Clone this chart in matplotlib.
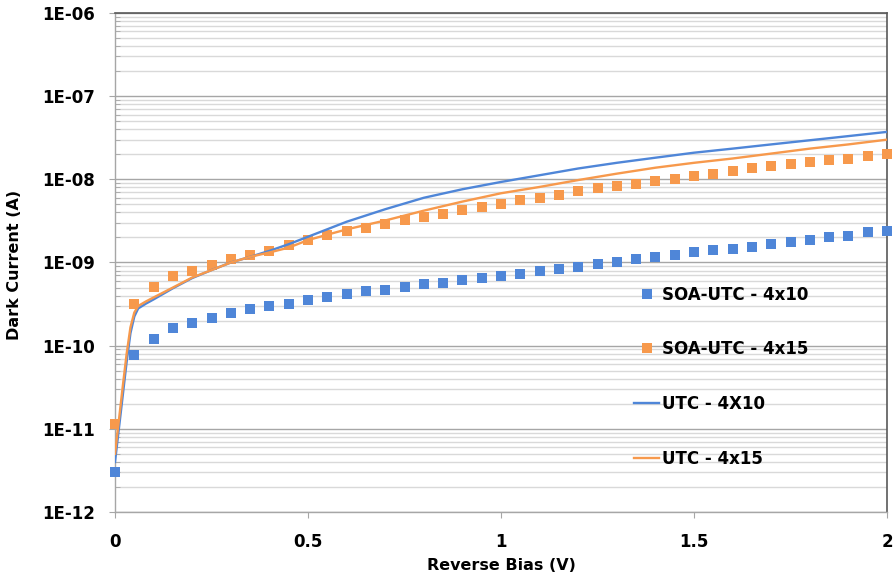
"""
Dark current vs reverse bias, SOA-UTC and UTC devices
"""

import matplotlib
matplotlib.use('Agg')
import matplotlib.pyplot as plt
from matplotlib.ticker import FixedLocator, FuncFormatter, NullFormatter
import numpy as np

# measured points, 0.05 V steps
bias_pts = [0.00, 0.05, 0.10, 0.15, 0.20, 0.25, 0.30, 0.35, 0.40, 0.45,
            0.50, 0.55, 0.60, 0.65, 0.70, 0.75, 0.80, 0.85, 0.90, 0.95,
            1.00, 1.05, 1.10, 1.15, 1.20, 1.25, 1.30, 1.35, 1.40, 1.45,
            1.50, 1.55, 1.60, 1.65, 1.70, 1.75, 1.80, 1.85, 1.90, 1.95, 2.00]

soa_4x10 = [3.0e-12, 7.8e-11, 1.2e-10, 1.62e-10, 1.86e-10, 2.14e-10, 2.45e-10, 2.75e-10, 3.0e-10, 3.2e-10,
            3.55e-10, 3.9e-10, 4.2e-10, 4.5e-10, 4.7e-10, 5.1e-10, 5.5e-10, 5.6e-10, 6.2e-10, 6.5e-10,
            6.9e-10, 7.2e-10, 7.8e-10, 8.3e-10, 8.9e-10, 9.5e-10, 1.02e-9, 1.10e-9, 1.17e-9, 1.23e-9,
            1.32e-9, 1.41e-9, 1.45e-9, 1.55e-9, 1.66e-9, 1.78e-9, 1.86e-9, 2.0e-9, 2.1e-9, 2.3e-9, 2.4e-9]

soa_4x15 = [1.15e-11, 3.2e-10, 5.1e-10, 6.8e-10, 7.9e-10, 9.3e-10, 1.10e-9, 1.23e-9, 1.38e-9, 1.62e-9,
            1.86e-9, 2.14e-9, 2.4e-9, 2.63e-9, 2.9e-9, 3.2e-9, 3.5e-9, 3.8e-9, 4.3e-9, 4.6e-9,
            5.0e-9, 5.7e-9, 6.0e-9, 6.5e-9, 7.2e-9, 7.8e-9, 8.3e-9, 8.9e-9, 9.5e-9, 1.02e-8,
            1.10e-8, 1.17e-8, 1.26e-8, 1.35e-8, 1.45e-8, 1.51e-8, 1.62e-8, 1.70e-8, 1.78e-8, 1.90e-8, 2.04e-8]

# UTC curves
bias_line = [0.00, 0.01, 0.02, 0.03, 0.04, 0.05, 0.06, 0.08, 0.10, 0.15,
             0.20, 0.25, 0.30, 0.35, 0.40, 0.45, 0.50, 0.55, 0.60, 0.70, 0.80,
             0.90, 1.00, 1.10, 1.20, 1.30, 1.40, 1.50, 1.60, 1.70, 1.80, 1.90, 2.00]

utc_4x10 = [4.0e-12, 1.0e-11, 2.5e-11, 6.3e-11, 1.41e-10, 2.24e-10, 2.8e-10, 3.2e-10, 3.6e-10, 4.9e-10,
            6.5e-10, 8.1e-10, 1.0e-9, 1.17e-9, 1.38e-9, 1.66e-9, 2.04e-9, 2.51e-9, 3.09e-9, 4.37e-9, 6.0e-9,
            7.6e-9, 9.3e-9, 1.12e-8, 1.35e-8, 1.58e-8, 1.82e-8, 2.09e-8, 2.34e-8, 2.63e-8, 2.95e-8, 3.31e-8, 3.72e-8]

utc_4x15 = [5.0e-12, 1.26e-11, 3.2e-11, 7.9e-11, 1.66e-10, 2.5e-10, 3.0e-10, 3.4e-10, 3.8e-10, 5.0e-10,
            6.6e-10, 8.1e-10, 1.0e-9, 1.17e-9, 1.32e-9, 1.51e-9, 1.86e-9, 2.16e-9, 2.5e-9, 3.2e-9, 4.2e-9,
            5.4e-9, 6.8e-9, 8.1e-9, 9.8e-9, 1.17e-8, 1.38e-8, 1.58e-8, 1.78e-8, 2.04e-8, 2.34e-8, 2.63e-8, 3.0e-8]

y_ticks = [1e-12, 1e-11, 1e-10, 1e-9, 1e-8, 1e-7, 1e-6]
y_ticklabels = ['1E-12', '1E-11', '1E-10', '1E-09', '1E-08', '1E-07', '1E-06']
x_ticks = [0, 0.5, 1, 1.5, 2]
x_ticklabels = ['0', '0.5', '1', '1.5', '2']

blue = '#4F86D8'
orange = '#F7994C'

def main():
    fig = plt.figure(figsize=(8.93, 5.79), dpi=100)
    ax = fig.add_axes([115/893., 1-512/579., (887-115)/893., (512-13)/579.])

    ax.plot(bias_pts, soa_4x10, 's', color=blue, ms=6.5, mew=0, clip_on=False,
            label='SOA-UTC - 4x10', zorder=3)
    ax.plot(bias_pts, soa_4x15, 's', color=orange, ms=6.5, mew=0, clip_on=False,
            label='SOA-UTC - 4x15', zorder=3)
    ax.plot(bias_line, utc_4x10, '-', color=blue, lw=1.7, label='UTC - 4X10', zorder=4)
    ax.plot(bias_line, utc_4x15, '-', color=orange, lw=1.7, label='UTC - 4x15', zorder=4)

    ax.set_yscale('log')
    ax.set_ylim(1e-12, 1e-6)
    ax.set_xlim(0, 2)

    ax.set_yticks(y_ticks)
    ax.set_yticklabels(y_ticklabels, fontweight='bold', fontsize=12)
    minors = [m * 10.0**e for e in range(-12, -6) for m in range(2, 10)]
    ax.yaxis.set_minor_locator(FixedLocator(minors))
    ax.yaxis.set_minor_formatter(NullFormatter())
    ax.set_xticks(x_ticks)
    ax.set_xticklabels(x_ticklabels, fontweight='bold', fontsize=12)

    ax.grid(True, which='major', axis='y', color='#a6a6a6', lw=1.0, zorder=0)
    ax.grid(True, which='minor', axis='y', color='#d9d9d9', lw=1.0, zorder=0)
    ax.set_axisbelow(True)

    for s in ['left', 'bottom']:
        ax.spines[s].set_color('#a6a6a6')
        ax.spines[s].set_linewidth(1.0)
    for s in ['top', 'right']:
        ax.spines[s].set_color('#595959')
        ax.spines[s].set_linewidth(1.2)

    ax.tick_params(axis='y', which='major', direction='out', length=4.5, color='#a6a6a6', pad=10)
    ax.tick_params(axis='y', which='minor', direction='in', length=3.5, color='#a6a6a6')
    ax.tick_params(axis='x', which='major', direction='out', length=4, color='#a6a6a6', pad=11)

    fig.text(501/893., 1-566/579., 'Reverse Bias (V)', ha='center', va='center',
             fontsize=11.5, fontweight='bold')
    fig.text(15/893., 1-265/579., 'Dark Current (A)', ha='center', va='center',
             rotation=90, fontsize=11.5, fontweight='bold')

    fig.legend(loc='center left', bbox_to_anchor=(634/893., 1-376.5/579.),
               frameon=False, labelspacing=2.2, handlelength=1.5,
               handletextpad=0.15, borderpad=0, borderaxespad=0,
               prop={'weight': 'bold', 'size': 12})

    fig.savefig('out.png', dpi=100)

if __name__ == '__main__':
    main()
